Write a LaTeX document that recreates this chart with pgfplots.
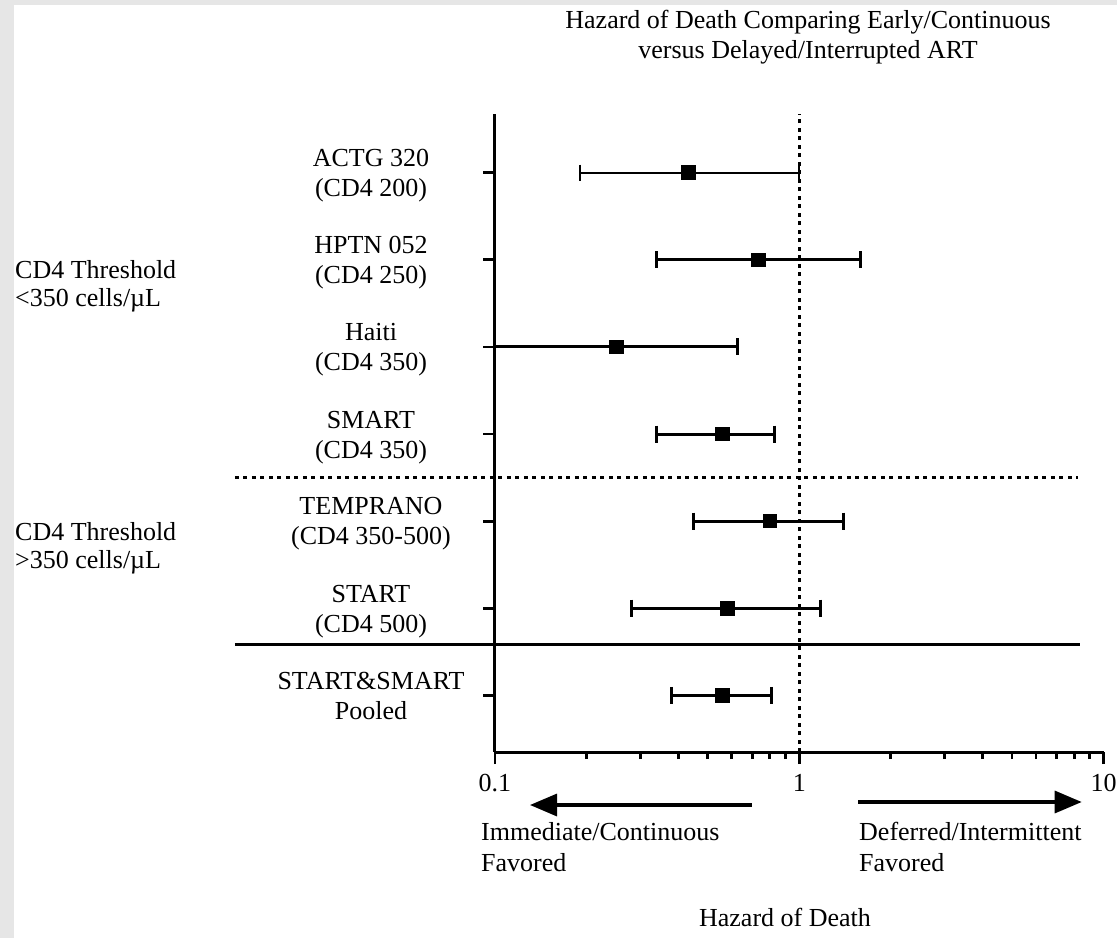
\documentclass[border=0pt]{standalone}
\usepackage{fontspec}
\setmainfont{Liberation Serif}
\usepackage{pgfplots}
\pgfplotsset{compat=1.18}
\usetikzlibrary{arrows.meta}
\definecolor{bg}{HTML}{E6E6E6}
\newcommand{\lf}{\fontsize{26bp}{31bp}\selectfont}
\begin{document}
\begin{tikzpicture}[every node/.style={inner sep=0pt, font=\lf}]
\useasboundingbox (0,0) rectangle (1117bp,-938bp);
\fill[bg] (0,0) rectangle (1117bp,-938bp);
\fill[white] (14bp,-5bp) rectangle (1117bp,-938bp);
\begin{axis}[
  at={(495bp,-752bp)}, anchor=south west,
  scale only axis, width=608.6bp, height=638bp,
  xmode=log, xmin=0.1, xmax=10,
  ymin=0.349, ymax=7.674,
  axis x line*=bottom, axis y line*=left,
  axis line style={line width=3bp},
  every tick/.style={black, line width=2.8bp},
  tick align=outside,
  major tick length=12bp, minor tick length=7bp,
  xtick={0.1,1,10}, xticklabels={0.1,1,10},
  minor xtick={0.2,0.3,0.4,0.5,0.6,0.7,0.8,0.9,2,3,4,5,6,7,8,9},
  ytick={1,2,3,4,5,6,7}, yticklabels={},
  xticklabel style={font=\lf, anchor=base, yshift=-27bp},
  clip=false,
]
% reference lines
\draw[line width=2.5bp, dash pattern=on 4bp off 4.5bp] (axis cs:1,0.349) -- (axis cs:1,7.674);
\draw[line width=2.5bp, dash pattern=on 4bp off 4.5bp] (axis cs:0.01398,3.5) -- (axis cs:8.24,3.5);
\draw[line width=2.8bp] (axis cs:0.01398,1.586) -- (axis cs:8.37,1.586);
% confidence intervals
\addplot[line width=1.8bp, mark=|, mark size=8bp, mark options={solid}] coordinates {(0.190,7) (1.0,7)};
\addplot[line width=3bp, mark=|, mark size=8.5bp] coordinates {(0.3406,6) (1.591,6)};
\addplot[line width=3bp, mark=|, mark size=8.5bp] coordinates {(0.1,5) (0.626,5)};
\addplot[line width=3bp, mark=|, mark size=8.5bp] coordinates {(0.3406,4) (0.832,4)};
\addplot[line width=3bp, mark=|, mark size=8.5bp] coordinates {(0.450,3) (1.402,3)};
\addplot[line width=3bp, mark=|, mark size=8.5bp] coordinates {(0.281,2) (1.173,2)};
\addplot[line width=3bp, mark=|, mark size=8.5bp] coordinates {(0.381,1) (0.811,1)};
% point estimates
\addplot[only marks, mark=square*, mark size=6.8bp, mark options={fill=black, draw=black, line width=1bp}] coordinates {
(0.4315,7) (0.733,6) (0.251,5) (0.560,4) (0.801,3) (0.580,2) (0.560,1)};
\end{axis}
% title
\node[anchor=base] at (808bp,-28bp) {Hazard of Death Comparing Early/Continuous};
\node[anchor=base] at (808bp,-58bp) {versus Delayed/Interrupted ART};
% study labels
\node[anchor=base] at (371bp,-166.7bp) {ACTG 320};
\node[anchor=base] at (371bp,-196.7bp) {(CD4 200)};
\node[anchor=base] at (371bp,-253.7bp) {HPTN 052};
\node[anchor=base] at (371bp,-283.7bp) {(CD4 250)};
\node[anchor=base] at (371bp,-340.7bp) {Haiti};
\node[anchor=base] at (371bp,-370.7bp) {(CD4 350)};
\node[anchor=base] at (371bp,-428bp) {SMART};
\node[anchor=base] at (371bp,-458bp) {(CD4 350)};
\node[anchor=base] at (371bp,-514.7bp) {TEMPRANO};
\node[anchor=base] at (371bp,-544.7bp) {(CD4 350-500)};
\node[anchor=base] at (371bp,-602.3bp) {START};
\node[anchor=base] at (371bp,-632.3bp) {(CD4 500)};
\node[anchor=base] at (371bp,-689bp) {START\&SMART};
\node[anchor=base] at (371bp,-719bp) {Pooled};
% group labels
\node[anchor=base west] at (15bp,-278bp) {CD4 Threshold};
\node[anchor=base west] at (15bp,-306bp) {<350 cells/µL};
\node[anchor=base west] at (15bp,-540bp) {CD4 Threshold};
\node[anchor=base west] at (15bp,-568bp) {>350 cells/µL};
% direction arrows
\draw[line width=3.3bp, -{Triangle[length=27bp,width=22bp]}] (751.7bp,-805bp) -- (530bp,-805bp);
\draw[line width=3.3bp, -{Triangle[length=27bp,width=22bp]}] (858.3bp,-802bp) -- (1081.7bp,-802bp);
\node[anchor=base west] at (481bp,-840.7bp) {Immediate/Continuous};
\node[anchor=base west] at (481bp,-871.7bp) {Favored};
\node[anchor=base west] at (859bp,-840.7bp) {Deferred/Intermittent};
\node[anchor=base west] at (859bp,-871.7bp) {Favored};
\node[anchor=base] at (785bp,-926bp) {Hazard of Death};
\end{tikzpicture}
\end{document}
